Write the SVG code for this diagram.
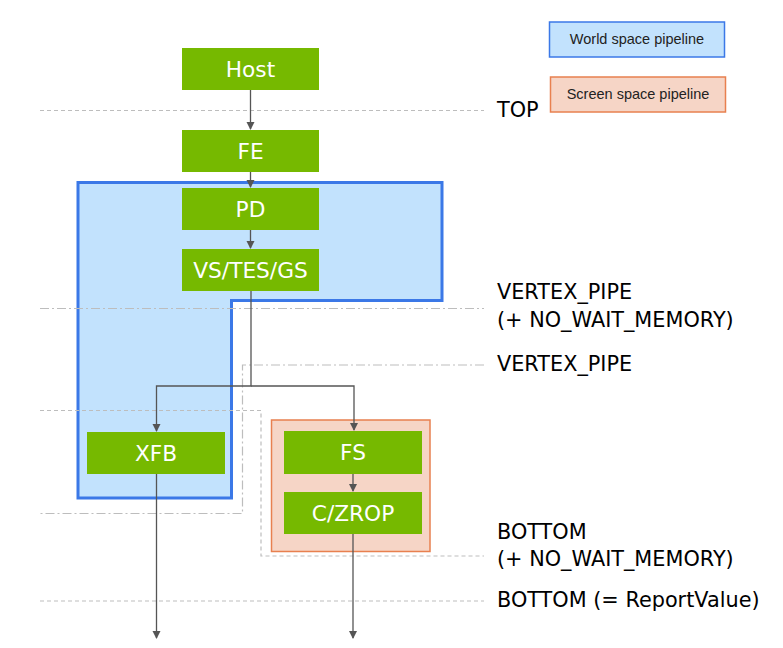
<svg xmlns="http://www.w3.org/2000/svg" width="783" height="648" viewBox="0 0 783 648">
<style>
.node{fill:#76b900}
.nl{font-family:"DejaVu Sans",Verdana,sans-serif;font-size:21.7px;fill:#fff;text-anchor:middle}
.lbl{font-family:"DejaVu Sans",Verdana,sans-serif;font-size:20.8px;fill:#000}
.leg{font-family:"Liberation Sans",Arial,sans-serif;font-size:14.5px;fill:#222;text-anchor:middle}
.dash{fill:none;stroke:#bdbdbd;stroke-width:1.2;stroke-dasharray:4 3}
.dd{fill:none;stroke:#bdbdbd;stroke-width:1.2;stroke-dasharray:9 3 2 3}
.conn{fill:none;stroke:#555;stroke-width:1.3}
</style>
<defs>
<marker id="ah" markerWidth="8" markerHeight="9" refX="7" refY="4" orient="auto" markerUnits="userSpaceOnUse">
<path d="M0,0 L8,4 L0,8 z" fill="#555"/>
</marker>
</defs>
<g id="legend">
<g id="legend-world"><rect x="549.5" y="22" width="175" height="35" fill="#c2e2fd" stroke="#3b78e7" stroke-width="1.5"/><text class="leg" x="637" y="44">World space pipeline</text></g>
<g id="legend-screen"><rect x="550.5" y="77" width="175" height="35" fill="#f6d5c6" stroke="#e8804f" stroke-width="1.5"/><text class="leg" x="638" y="99">Screen space pipeline</text></g>
</g>
<g id="world-region"><path d="M78,182.5 H442 V300.5 H231.5 V498 H78 Z" fill="#c2e2fd" stroke="#3b78e7" stroke-width="3"/></g>
<g id="screen-region"><rect x="271.5" y="420" width="158.5" height="131.5" fill="#f6d5c6" stroke="#e8804f" stroke-width="1.5"/></g>
<g id="levels">
<path class="dash" d="M40,110.5 H484"/>
<path class="dd" d="M40,308.5 H484"/>
<path class="dd" d="M484,365 H242.5 V513.5 H40"/>
<path class="dash" d="M40,410.5 H261 V556 H484"/>
<path class="dash" d="M40,601 H484"/>
<text class="lbl" x="497" y="117">TOP</text>
<text class="lbl" x="497" y="299">VERTEX_PIPE</text>
<text class="lbl" x="497" y="327">(+ NO_WAIT_MEMORY)</text>
<text class="lbl" x="497" y="371">VERTEX_PIPE</text>
<text class="lbl" x="497" y="539">BOTTOM</text>
<text class="lbl" x="497" y="566">(+ NO_WAIT_MEMORY)</text>
<text class="lbl" x="497" y="607">BOTTOM (= ReportValue)</text>
</g>
<g id="connectors">
<path class="conn" d="M250.5,90 V129" marker-end="url(#ah)"/>
<path class="conn" d="M250.5,172 V187" marker-end="url(#ah)"/>
<path class="conn" d="M250.5,230 V248" marker-end="url(#ah)"/>
<path class="conn" d="M251,291 V386 H156.5 V431" marker-end="url(#ah)"/>
<path class="conn" d="M251,386 H354 V430" marker-end="url(#ah)"/>
<path class="conn" d="M353,474 V491" marker-end="url(#ah)"/>
<path class="conn" d="M156.5,474 V638" marker-end="url(#ah)"/>
<path class="conn" d="M353,534 V638" marker-end="url(#ah)"/>
</g>
<g id="host"><rect class="node" x="182" y="48" width="137" height="42"/><text class="nl" x="250.5" y="77">Host</text></g>
<g id="fe"><rect class="node" x="182" y="130" width="137" height="42"/><text class="nl" x="250.5" y="159">FE</text></g>
<g id="pd"><rect class="node" x="182" y="188" width="137" height="42"/><text class="nl" x="250.5" y="217">PD</text></g>
<g id="vs"><rect class="node" x="182" y="249" width="137" height="42"/><text class="nl" x="250.5" y="278">VS/TES/GS</text></g>
<g id="xfb"><rect class="node" x="87" y="432" width="138" height="42"/><text class="nl" x="156" y="461">XFB</text></g>
<g id="fs"><rect class="node" x="284" y="431" width="138" height="43"/><text class="nl" x="353" y="460">FS</text></g>
<g id="czrop"><rect class="node" x="284" y="492" width="138" height="42"/><text class="nl" x="353" y="521">C/ZROP</text></g>
</svg>
